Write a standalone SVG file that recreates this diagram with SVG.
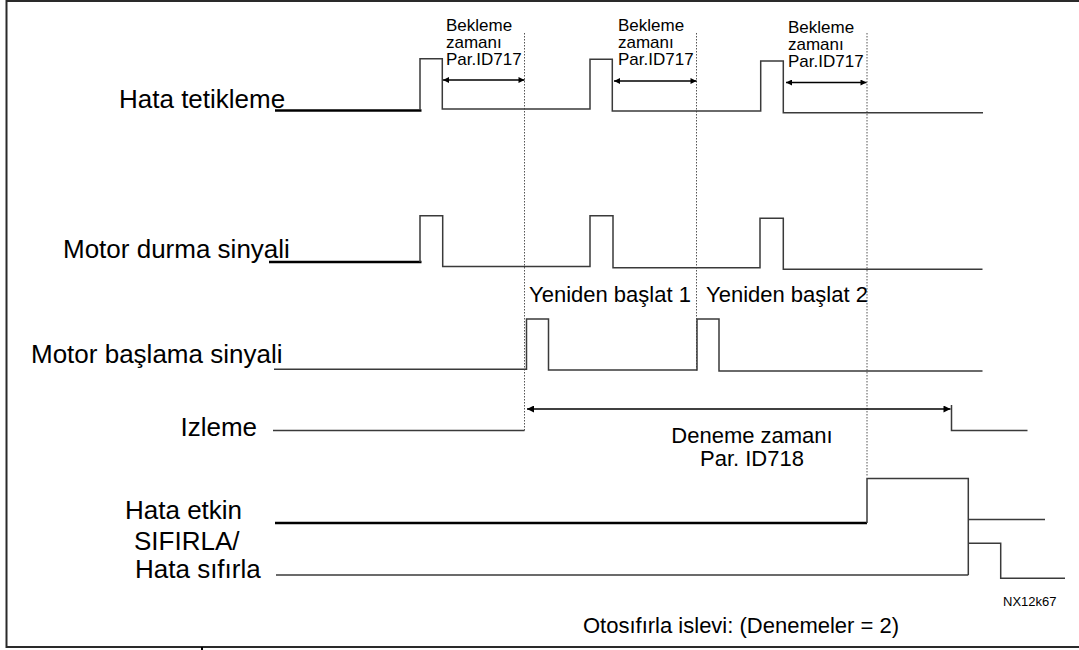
<svg xmlns="http://www.w3.org/2000/svg" width="1079" height="650" viewBox="0 0 1079 650">
<style>
  .lbl{font-family:"Liberation Sans",Arial,sans-serif;fill:#000}
  .big{font-size:26px}
  .mid{font-size:22px}
  .sm{font-size:17px}
  .tiny{font-size:13px}
  .sig{fill:none;stroke:#3a3a3a;stroke-width:1.5}
  .thick{fill:none;stroke:#000;stroke-width:2.6}
  .dot{fill:none;stroke:#555;stroke-width:1;stroke-dasharray:1.5,1.5}
  .dim{fill:none;stroke:#000;stroke-width:1.3}
  .frame{fill:none;stroke:#2a2a2a;stroke-width:2}
</style>
<defs>
  <marker id="ah" viewBox="0 0 10 10" refX="10" refY="5" markerWidth="8" markerHeight="6" markerUnits="userSpaceOnUse" orient="auto-start-reverse">
    <path d="M0,0 L10,5 L0,10 Z" fill="#000"/>
  </marker>
  <marker id="ahL" viewBox="0 0 10 10" refX="10" refY="5" markerWidth="11" markerHeight="7" markerUnits="userSpaceOnUse" orient="auto-start-reverse">
    <path d="M0,0 L10,5 L0,10 Z" fill="#000"/>
  </marker>
</defs>
<rect width="1079" height="650" fill="#fff"/>
<g id="frame">
  <path class="frame" d="M1079,1 H6.5 V647 H1079"/>
  <line x1="202" y1="647" x2="202" y2="650" stroke="#000" stroke-width="2"/>
</g>
<g id="guides">
  <line class="dot" x1="524.5" y1="33" x2="524.5" y2="431"/>
  <line class="dot" x1="696.5" y1="33" x2="696.5" y2="371"/>
  <line class="dot" x1="867" y1="33" x2="867" y2="476"/>
</g>
<g id="sig-hata-tetikleme">
  <text class="lbl big" x="119" y="108">Hata tetikleme</text>
  <line class="thick" x1="275" y1="110.5" x2="421.5" y2="110.5"/>
  <path class="sig" d="M420,110 V58.7 H442.3 V109 H590 V59.3 H612.3 V111 H760.7 V61 H783.3 V112.7 H983"/>
  <text class="lbl sm" x="446" y="31">Bekleme</text>
  <text class="lbl sm" x="446" y="48">zamanı</text>
  <text class="lbl sm" x="446" y="65">Par.ID717</text>
  <text class="lbl sm" x="618" y="31">Bekleme</text>
  <text class="lbl sm" x="618" y="48">zamanı</text>
  <text class="lbl sm" x="618" y="65">Par.ID717</text>
  <text class="lbl sm" x="788" y="33">Bekleme</text>
  <text class="lbl sm" x="788" y="50">zamanı</text>
  <text class="lbl sm" x="788" y="67">Par.ID717</text>
</g>
<g id="sig-motor-durma">
  <text class="lbl big" x="63" y="258">Motor durma sinyali</text>
  <line class="thick" x1="269" y1="262" x2="421.5" y2="262"/>
  <path class="sig" d="M420,262 V215.7 H442.7 V266.5 H590 V215.7 H613 V267.7 H760 V218.3 H783.3 V269.3 H982.5"/>
</g>
<g id="sig-motor-baslama">
  <text class="lbl big" x="31" y="363">Motor başlama sinyali</text>
  <path class="sig" d="M274,369.3 H526.5 V319 H548.5 V370 H697 V319 H719 V371 H982.5"/>
  <text class="lbl mid" x="529" y="302">Yeniden başlat 1</text>
  <text class="lbl mid" x="706" y="302">Yeniden başlat 2</text>
</g>
<g id="sig-izleme">
  <text class="lbl big" x="257" y="436" text-anchor="end">Izleme</text>
  <path class="sig" d="M273,430.5 H524.5"/>
  <path class="sig" d="M951.5,405 V430.5 H1027.5"/>
  <text class="lbl mid" x="752" y="443" text-anchor="middle">Deneme zamanı</text>
  <text class="lbl mid" x="752" y="466" text-anchor="middle">Par. ID718</text>
</g>
<g id="sig-hata-etkin">
  <text class="lbl big" x="125" y="519">Hata etkin</text>
  <line class="thick" x1="275" y1="523" x2="867" y2="523"/>
  <path class="sig" d="M867,523 V478.5 H968.3 V575"/>
  <path class="sig" d="M968.3,519.5 H1045"/>
</g>
<g id="sig-hata-sifirla">
  <text class="lbl big" x="134" y="550">SIFIRLA/</text>
  <text class="lbl big" x="135" y="578">Hata sıfırla</text>
  <path class="sig" d="M276,575 H968.3"/>
  <path class="sig" d="M968.3,543.3 H1000.7 V578.3 H1065"/>
</g>
<g id="connectors">
  <line class="dim" x1="443" y1="80" x2="524.5" y2="80" marker-start="url(#ah)" marker-end="url(#ah)"/>
  <line class="dim" x1="614" y1="81" x2="696.5" y2="81" marker-start="url(#ah)" marker-end="url(#ah)"/>
  <line class="dim" x1="786" y1="82.5" x2="866.5" y2="82.5" marker-start="url(#ah)" marker-end="url(#ah)"/>
  <line class="dim" x1="527" y1="409" x2="950.5" y2="409" marker-start="url(#ahL)" marker-end="url(#ahL)"/>
</g>
<g id="notes">
  <text class="lbl tiny" x="1003" y="606">NX12k67</text>
  <text class="lbl mid" x="583" y="633">Otosıfırla islevi: (Denemeler = 2)</text>
</g>
</svg>
